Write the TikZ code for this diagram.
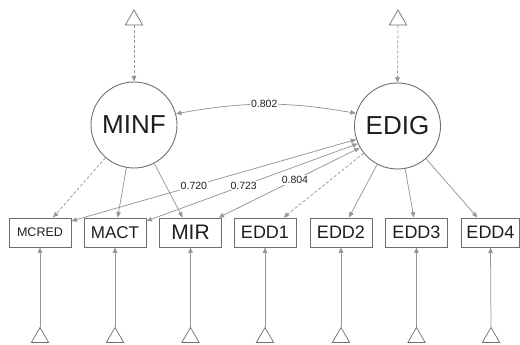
\documentclass[tikz,border=0pt]{standalone}
\usepackage{fontspec}
\setmainfont{Liberation Sans}
\usetikzlibrary{arrows.meta,shapes.geometric}
\definecolor{lineg}{RGB}{150,150,150}
\definecolor{boxg}{RGB}{110,110,110}
\definecolor{txt}{RGB}{30,30,30}
\begin{document}
\begin{tikzpicture}[x=1pt,y=-1pt,
  latent/.style={circle,draw=boxg,line width=0.9pt,minimum size=86pt,inner sep=0pt,text=txt,font=\fontsize{26}{26}\selectfont},
  obs/.style={rectangle,draw=boxg,line width=0.9pt,minimum width=62pt,minimum height=29pt,inner sep=0pt,text=txt},
  tri/.style={regular polygon,regular polygon sides=3,draw=boxg,line width=0.7pt,minimum size=20pt,inner sep=0pt},
  conn/.style={draw=lineg,line width=0.75pt,-{Triangle[length=5.5pt,width=4.5pt]}},
  dconn/.style={conn,dashed,dash pattern=on 3pt off 2pt},
  biconn/.style={draw=lineg,line width=0.75pt,{Triangle[length=5.5pt,width=4.5pt]}-{Triangle[length=5.5pt,width=4.5pt]}},
  lbl/.style={fill=white,inner sep=1pt,text=txt,font=\fontsize{10.5}{10.5}\selectfont}
]
\useasboundingbox (0,0) rectangle (520,345);

% latent variables
\node[latent] (MINF) at (134,125) {MINF};
\node[latent] (EDIG) at (397.5,126) {EDIG};

% top triangles
\node[tri] (tMINF) at (134,20) {};
\node[tri] (tEDIG) at (398,20) {};

% indicators
\node[obs,font=\fontsize{12.5}{12.5}\selectfont] (MCRED) at (40,232.5) {MCRED};
\node[obs,font=\fontsize{17}{17}\selectfont] (MACT) at (115,232.5) {MACT};
\node[obs,font=\fontsize{21}{21}\selectfont] (MIR) at (190.5,232.5) {MIR};
\node[obs,font=\fontsize{18}{18}\selectfont] (EDD1) at (265,232.5) {EDD1};
\node[obs,font=\fontsize{18}{18}\selectfont] (EDD2) at (341,232.5) {EDD2};
\node[obs,font=\fontsize{18}{18}\selectfont] (EDD3) at (416.5,232.5) {EDD3};
\node[obs,font=\fontsize{18}{18}\selectfont,minimum width=58pt] (EDD4) at (490.5,232.5) {EDD4};

% bottom triangles
\foreach \n/\x in {MCRED/40,MACT/115,MIR/190.5,EDD1/265,EDD2/341,EDD3/416.5,EDD4/491}{
  \node[tri] (b\n) at (\x,337.5) {};
  \draw[conn] (b\n.corner 1) -- (\n.south);
}

% intercept arrows to latents
\draw[dconn] (tMINF.south) -- (MINF.north);
\draw[dconn] (tEDIG.south) -- (EDIG.north);

% loadings
\draw[dconn] (MINF) -- (MCRED);
\draw[conn] (MINF) -- (MACT);
\draw[conn] (MINF) -- (MIR);
\draw[dconn] (EDIG) -- (EDD1);
\draw[conn] (EDIG) -- (EDD2);
\draw[conn] (EDIG) -- (EDD3);
\draw[conn] (EDIG) -- (EDD4);

% covariance between latents
\draw[biconn] (MINF.15) to[bend left=10] node[lbl,pos=0.49] (c802) {0.802} (EDIG.163);

% cross covariances
\draw[biconn] (MCRED.20) -- node[lbl,pos=0.43] (c720) {0.720} (EDIG.198);
\draw[biconn] (MACT.20) -- node[lbl,pos=0.46] (c723) {0.723} (EDIG.204);
\draw[biconn] (MIR.28) -- node[lbl,pos=0.54] (c804) {0.804} (EDIG.210);
\end{tikzpicture}
\end{document}
